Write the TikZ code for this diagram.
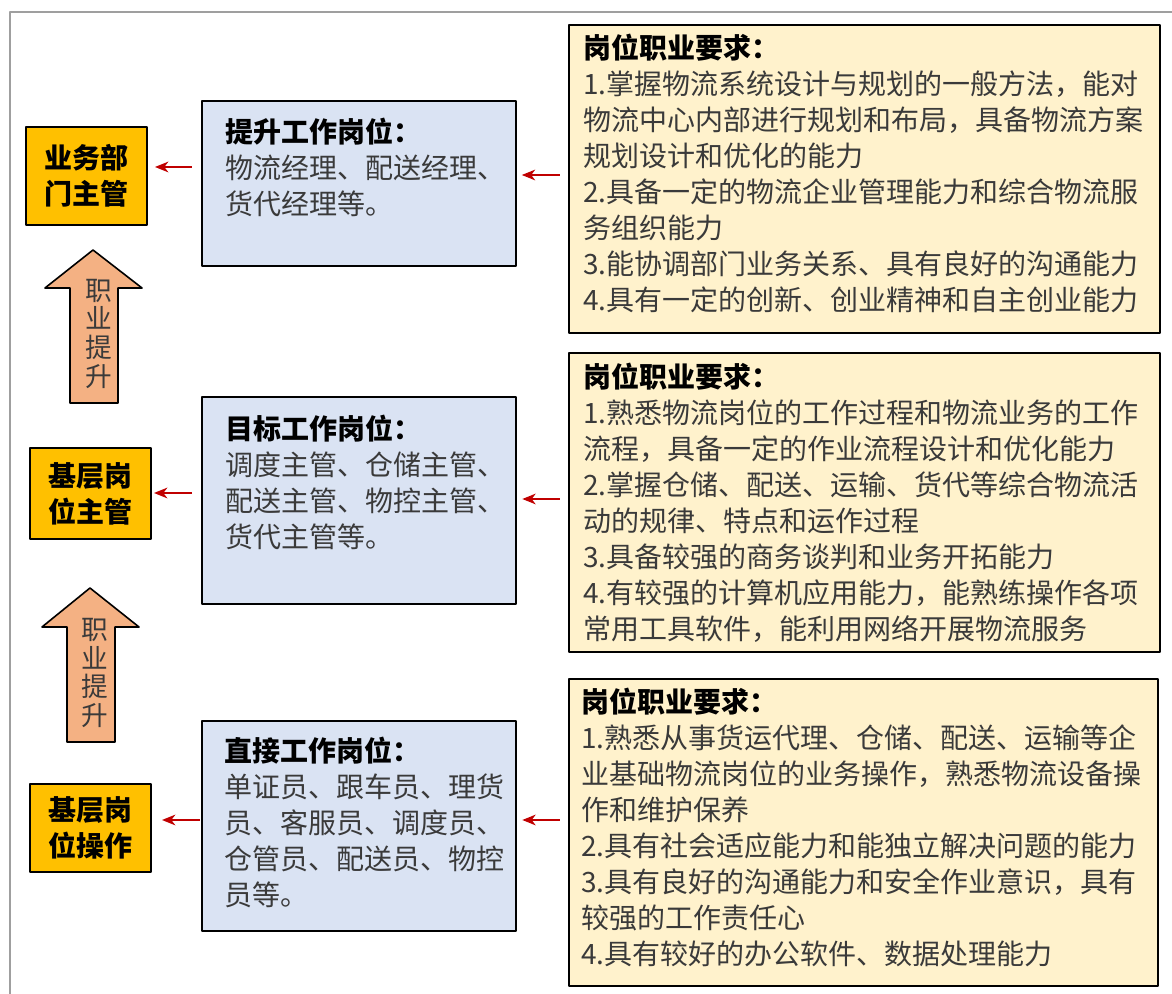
\documentclass[tikz,border=0pt]{standalone}
\usepackage{fontspec}
\setmainfont{Noto Sans CJK SC}
\usetikzlibrary{arrows.meta}
\definecolor{postorange}{HTML}{FFC000}
\definecolor{postblue}{HTML}{DAE3F3}
\definecolor{postyellow}{HTML}{FFF2CC}
\definecolor{liftfill}{HTML}{F4B183}
\definecolor{linkred}{HTML}{C00000}
\definecolor{bodygray}{HTML}{3A3A3A}
\begin{document}
\begin{tikzpicture}[x=0.75pt,y=-0.75pt, line join=round,
  post/.style={draw=black, line width=1.5pt, fill=postorange, minimum width=90.75pt, inner sep=0pt, align=center, font=\fontsize{21}{27}\selectfont\bfseries},
  job/.style={draw=black, line width=1.5pt, fill=postblue, minimum width=235.5pt, inner sep=0pt},
  req/.style={draw=black, line width=1.5pt, fill=postyellow, minimum width=443.25pt, inner sep=0pt},
  body/.style={anchor=north west, align=left, inner sep=0pt, text=bodygray, font=\fontsize{21}{27}\selectfont},
  lift/.style={draw=black, line width=1.2pt, fill=liftfill},
  lifttext/.style={align=center, inner sep=0pt, text=bodygray, font=\fontsize{20}{21.5}\selectfont},
  link/.style={draw=linkred, line width=1.4pt, -{Stealth[length=10pt,width=8pt,inset=3pt]}, shorten <=6pt, shorten >=4pt}]
\useasboundingbox (0,0) rectangle (1172,994);
% outer frame
\draw[gray!75, line width=1.5pt] (10,994) -- (10,12) -- (1172,12);

% posts
\node[post, minimum height=73.5pt] (mgr) at (86.5,176) {业务部\\门主管};
\node[post, minimum height=68.25pt] (sup) at (90.5,493.5) {基层岗\\位主管};
\node[post, minimum height=66pt] (ops) at (90.5,828) {基层岗\\位操作};

% career lift arrows
\draw[lift] (70,403) -- (70,288) -- (45,288) -- (93,250) -- (142,288) -- (118,288) -- (118,403) -- cycle;
\node[lifttext] (lift1) at (98.5,333.5) {职\\业\\提\\升};
\draw[lift] (67,742) -- (67,627) -- (42,627) -- (90,588) -- (139,627) -- (115,627) -- (115,742) -- cycle;
\node[lifttext] (lift2) at (95,673) {职\\业\\提\\升};

% jobs
\node[job, minimum height=123.75pt] (promo) at (358.5,183.5) {};
\node[body] (promotext) at (225,118) {{\color{black}\bfseries 提升工作岗位：}\\物流经理、配送经理、\\货代经理等。};
\node[job, minimum height=155.25pt] (target) at (359,500.5) {};
\node[body] (targettext) at (225,415) {{\color{black}\bfseries 目标工作岗位：}\\调度主管、仓储主管、\\配送主管、物控主管、\\货代主管等。};
\node[job, minimum height=157.5pt] (direct) at (359,826) {};
\node[body] (directtext) at (224,737) {{\color{black}\bfseries 直接工作岗位：}\\单证员、跟车员、理货\\员、客服员、调度员、\\仓管员、配送员、物控\\员等。};

% requirements
\node[req, minimum height=231pt] (req1) at (864,179) {};
\node[body] (req1text) at (583,34) {{\color{black}\bfseries 岗位职业要求：}\\1.掌握物流系统设计与规划的一般方法，能对\\物流中心内部进行规划和布局，具备物流方案\\规划设计和优化的能力\\2.具备一定的物流企业管理能力和综合物流服\\务组织能力\\3.能协调部门业务关系、具有良好的沟通能力\\4.具有一定的创新、创业精神和自主创业能力};
\node[req, minimum height=224.25pt] (req2) at (864,502.5) {};
\node[body] (req2text) at (583,363) {{\color{black}\bfseries 岗位职业要求：}\\1.熟悉物流岗位的工作过程和物流业务的工作\\流程，具备一定的作业流程设计和优化能力\\2.掌握仓储、配送、运输、货代等综合物流活\\动的规律、特点和运作过程\\3.具备较强的商务谈判和业务开拓能力\\4.有较强的计算机应用能力，能熟练操作各项\\常用工具软件，能利用网络开展物流服务};
\node[req, minimum width=441.75pt, minimum height=230.25pt] (req3) at (863,832.5) {};
\node[body] (req3text) at (581,688) {{\color{black}\bfseries 岗位职业要求：}\\1.熟悉从事货运代理、仓储、配送、运输等企\\业基础物流岗位的业务操作，熟悉物流设备操\\作和维护保养\\2.具有社会适应能力和能独立解决问题的能力\\3.具有良好的沟通能力和安全作业意识，具有\\较强的工作责任心\\4.具有较好的办公软件、数据处理能力};

% links
\draw[link] (req1.west |- 0,175) -- (promo.east |- 0,175);
\draw[link, shorten <=6.75pt, shorten >=5.25pt] (promo.west |- 0,167) -- (mgr.east |- 0,167);
\draw[link] (req2.west |- 0,499) -- (target.east |- 0,499);
\draw[link, shorten <=6.75pt, shorten >=1.5pt] (target.west |- 0,493) -- (sup.east |- 0,493);
\draw[link] (req3.west |- 0,820) -- (direct.east |- 0,820);
\draw[link, shorten <=0.75pt, shorten >=7.5pt] (direct.west |- 0,820) -- (ops.east |- 0,820);
\end{tikzpicture}
\end{document}
